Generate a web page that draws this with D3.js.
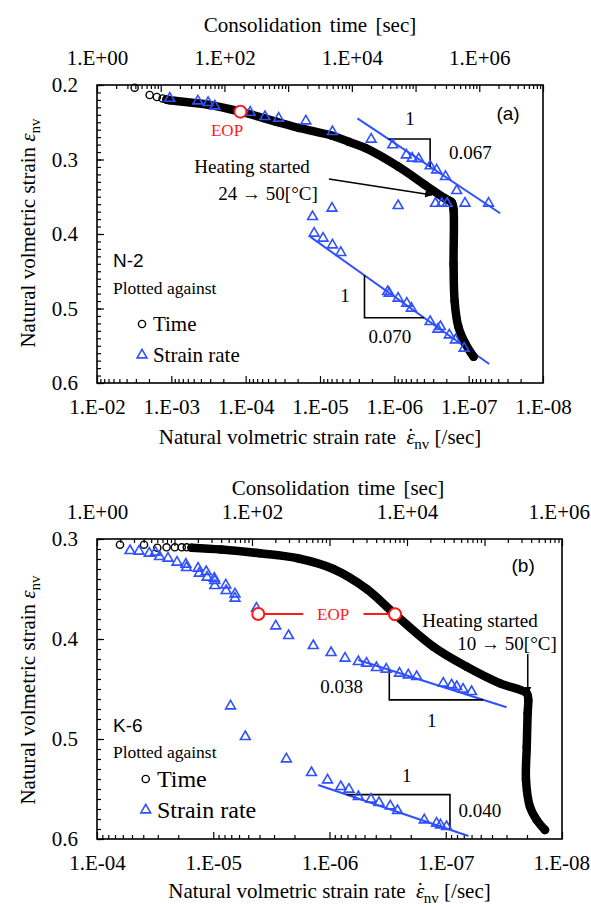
<!DOCTYPE html>
<html>
<head>
<meta charset="utf-8">
<script src="https://cdn.jsdelivr.net/npm/d3@7"></script>
<style>
  body { margin: 0; background: #fff; }
  svg { display: block; font-family: "Liberation Serif", "Times New Roman", serif; }
</style>
</head>
<body>
<svg id="chart" width="591" height="907"></svg>
<script>
//--------------------------------------------
// DATA  panel (a)  N-2
//--------------------------------------------
// strain vs consolidation time [sec]
const timeEarlyA = [[3.9, 0.2036], [6.7, 0.2134], [8.7, 0.2161], [10.7, 0.2181]];
const timeBandA = [
  [12.3, 0.2195], [14, 0.2205], [59, 0.2268], [178, 0.2358], [646, 0.2492],
  [1480, 0.2577], [4900, 0.2681], [8900, 0.2761], [16200, 0.2845], [53700, 0.3096],
  [141000, 0.3342], [288000, 0.3521], [370000, 0.3575], [393000, 0.366],
  [395000, 0.44], [410000, 0.49], [468000, 0.524], [603000, 0.547], [813000, 0.5647]
];
// strain vs strain rate [/sec]
const rateA = [
  [1.05e-3, 0.218], [4.4e-4, 0.2215], [3.2e-4, 0.2237], [2.6e-4, 0.2282],
  [8.7e-5, 0.2367], [5.5e-5, 0.2425], [3.6e-5, 0.2447], [1.55e-5, 0.2483],
  [6.8e-6, 0.2627], [2.05e-6, 0.2729], [1.05e-6, 0.2805], [6.9e-7, 0.294],
  [5.75e-7, 0.2984], [4.7e-7, 0.2993], [3.3e-7, 0.3087], [2.7e-7, 0.3141],
  [2.05e-7, 0.323], [1.45e-7, 0.3419], [1.12e-7, 0.3588], [5.4e-8, 0.3588],
  [2.8e-7, 0.359], [2.3e-7, 0.359], [1.95e-7, 0.359], [8.9e-7, 0.362],
  [6.9e-6, 0.3655], [1.26e-5, 0.3768], [1.2e-5, 0.399], [9.1e-6, 0.4058],
  [6.8e-6, 0.4148], [5.25e-6, 0.425], [1.23e-6, 0.4774], [1.17e-6, 0.4796],
  [8.9e-7, 0.4863], [6.8e-7, 0.493], [5.9e-7, 0.4997], [3.3e-7, 0.5177],
  [2.6e-7, 0.5279], [2.4e-7, 0.5244], [1.82e-7, 0.5356], [1.51e-7, 0.5423],
  [1.15e-7, 0.5534]
];
const fitA = [
  [[3.14e-6, 0.2447], [3.77e-8, 0.3722]],
  [[1.36e-5, 0.4036], [5.3e-8, 0.5745]]
];
const slopeA = [
  { fit: 0, from: 1.2e-6, to: 3.3e-7, kind: "top" },
  { fit: 1, from: 2.52e-6, to: 3.98e-7, kind: "bottom" }
];
const eopTimeA = [178, 0.2358];

//--------------------------------------------
// DATA  panel (b)  K-6
//--------------------------------------------
const timeEarlyB = [[1.98, 0.3057], [4.04, 0.3057], [6.0, 0.3087], [7.9, 0.3083],
  [10.1, 0.3083], [12.4, 0.3083], [14.4, 0.3083]];
const timeBandB = [
  [16.6, 0.3087], [40, 0.3105], [126, 0.3143], [400, 0.3195], [1120, 0.33],
  [3020, 0.35], [7000, 0.3753], [21900, 0.4077], [58900, 0.4277], [158000, 0.4443],
  [351000, 0.4543], [367000, 0.461], [360000, 0.4743], [351000, 0.5077],
  [343000, 0.541], [386000, 0.5677], [472000, 0.581], [604000, 0.591]
];
const rateB = [
  [5.2e-5, 0.3117], [4.35e-5, 0.3123], [3.55e-5, 0.3143], [3.15e-5, 0.3133],
  [2.9e-5, 0.3177], [2.45e-5, 0.3193], [2.05e-5, 0.3233], [1.72e-5, 0.3253],
  [1.7e-5, 0.3287], [1.35e-5, 0.3293], [1.32e-5, 0.3343], [1.15e-5, 0.3327],
  [1.13e-5, 0.3383], [9.8e-6, 0.3393], [9.7e-6, 0.3417], [9.7e-6, 0.3467],
  [7.8e-6, 0.346], [7.75e-6, 0.3517], [6.5e-6, 0.355], [6.5e-6, 0.3593],
  [4.25e-6, 0.3693], [2.9e-6, 0.387], [2.25e-6, 0.3967], [1.38e-6, 0.4067],
  [9.7e-7, 0.4137], [7.35e-7, 0.4193], [5.65e-7, 0.4227], [4.8e-7, 0.4243],
  [3.95e-7, 0.4287], [3.25e-7, 0.4303], [2.5e-7, 0.4343], [2.1e-7, 0.436],
  [1.78e-7, 0.4377], [1.05e-7, 0.4443], [8.9e-8, 0.446], [8.05e-8, 0.4477],
  [7.1e-8, 0.4503], [6.0e-8, 0.4527],
  [7.1e-6, 0.467], [5.3e-6, 0.4977], [2.35e-6, 0.52], [1.43e-6, 0.5337],
  [1.04e-6, 0.541], [8.0e-7, 0.5477], [6.8e-7, 0.5503], [5.65e-7, 0.5577],
  [4.4e-7, 0.5603], [3.75e-7, 0.5637], [3.0e-7, 0.567], [2.6e-7, 0.5717],
  [1.53e-7, 0.581], [1.2e-7, 0.5843], [1.11e-7, 0.586], [9.85e-8, 0.5877]
];
const fitB = [
  [[5.65e-7, 0.421], [3.0e-8, 0.4683]],
  [[1.25e-6, 0.546], [6.38e-8, 0.597]]
];
const slopeB = [
  { fit: 0, from: 3.06e-7, to: 4.75e-8, kind: "bottom" },
  { fit: 1, from: 7.13e-7, to: 9.2e-8, kind: "top" }
];
const eopTimeB = [7000, 0.3753];
const eopRateB = [4.1e-6, 0.375];

//--------------------------------------------
// CONFIG
//--------------------------------------------
const W = 591,
      blue = "#2f50ff",
      red = "#ff1a1a",
      svg = d3.select("#chart");

const fmtE = v => {
  const e = Math.round(Math.log10(v));
  return "1.E" + (e < 0 ? "-" : "+") + String(Math.abs(e)).padStart(2, "0");
};
const decades = (a, b) => d3.range(a, b + 1).map(e => Math.pow(10, e));
const minorLog = (a, b) => d3.range(a, b).flatMap(e => d3.range(2, 10).map(m => m * Math.pow(10, e)));

const panels = [
  {
    box: { l: 97, r: 543, t: 85, b: 383 },
    rateDom: [1e-2, 1e-8], rateExp: [-8, -2],
    timeDom: [1, 1e7], timeExp: [0, 7],
    strainDom: [0.2, 0.6],
    timeEarly: timeEarlyA, timeBand: timeBandA, rate: rateA,
    fits: fitA, slopes: slopeA,
    timeTitleX: 310, timeTitleY: 25, rateTitleY: 444, strainTitleY: 233,
    slopeLabels: [["1", 6.17e-7, 0.2443], ["0.067", 9.5e-8, 0.29], ["1", 4.6e-6, 0.4819], ["0.070", 1.15e-6, 0.5379]],
    tag: ["(a)", 2.95e-8, 0.2376],
    name: ["N-2", 6.1e-3, 0.435],
    plotted: 0.4725,
    legend: { mark: 2.48e-3, text: 1.77e-3, time: 0.5208, rate: 0.5624, size: 21 },
    heat: { t1: ["Heating started", 8.2e-5, 0.31], t2: ["24 → 50[°C]", 5.0e-5, 0.345],
            from: [7.6e-6, 0.3262], to: [3.1e-7, 0.3477] },
    eopTime: eopTimeA,
    eopText: [1.78e-4, 0.2617]
  },
  {
    box: { l: 97, r: 562, t: 539, b: 839 },
    rateDom: [1e-4, 1e-8], rateExp: [-8, -4],
    timeDom: [1, 1e6], timeExp: [0, 6],
    strainDom: [0.3, 0.6],
    timeEarly: timeEarlyB, timeBand: timeBandB, rate: rateB,
    fits: fitB, slopes: slopeB,
    timeTitleX: 338, timeTitleY: 488, rateTitleY: 898, strainTitleY: 690,
    slopeLabels: [["0.038", 7.85e-7, 0.4477], ["1", 1.32e-7, 0.481], ["1", 2.17e-7, 0.536], ["0.040", 5.08e-8, 0.571]],
    tag: ["(b)", 2.16e-8, 0.326],
    name: ["K-6", 7.28e-5, 0.486],
    plotted: 0.513,
    legend: { mark: 3.81e-5, text: 3.05e-5, time: 0.54, rate: 0.571, size: 24 },
    heat: { t1: ["Heating started", 5.07e-8, 0.381], t2: ["10 → 50[°C]", 2.97e-8, 0.404],
            from: [1.97e-8, 0.415], to: [1.97e-8, 0.455] },
    eopTime: eopTimeB,
    eopRate: eopRateB,
    eopText: [9.3e-7, 0.375],
    eopLines: [[4.1e-6, 1.68e-6], [5.1e-7, null]]
  }
];

// arrow head
svg.append("defs").append("marker")
  .attr("id", "arrow")
  .attr("viewBox", "0 0 10 10")
  .attr("refX", 10).attr("refY", 5)
  .attr("markerWidth", 9).attr("markerHeight", 7)
  .attr("markerUnits", "userSpaceOnUse")
  .attr("orient", "auto")
  .append("path").attr("d", "M0,0 L10,5 L0,10 z").attr("fill", "#000");

//--------------------------------------------
// DRAW
//--------------------------------------------
function styleAxis(sel) {
  sel.select(".domain").remove();
  sel.selectAll("line").attr("stroke", "#000").attr("stroke-width", 1.2);
  sel.selectAll("text")
    .attr("fill", "#000")
    .style("font-family", "'Liberation Serif', serif")
    .style("font-size", "21px");
  // keep a label that would run past the right edge inside the page
  sel.selectAll("text").each(function () {
    const b = this.getBBox();
    const tx = this.parentNode.transform.baseVal.consolidate();
    const left = (tx ? tx.matrix.e : 0) + b.x;
    const over = left + b.width - (W - 1);
    if (over > 0) d3.select(this).attr("x", -over);
  });
}

// "ε̇nv" : italic epsilon, dot above, subscript
function epsLabel(text, dotted) {
  text.append("tspan").style("font-style", "italic").text("\u03b5");
  if (dotted) text.append("tspan").attr("dx", -7.5).attr("dy", -1).text("\u02d9");
  text.append("tspan").attr("dy", dotted ? 6 : 5).style("font-size", "15px").text("nv");
}

function drawPanel(p) {
  const g = svg.append("g");
  const B = p.box;
  const x = d3.scaleLog().domain(p.rateDom).range([B.l, B.r]);
  const xt = d3.scaleLog().domain(p.timeDom).range([B.l, B.r]);
  const y = d3.scaleLinear().domain(p.strainDom).range([B.t, B.b]);

  // axes: rate (bottom)
  g.append("g").attr("transform", `translate(0,${B.b})`)
    .call(d3.axisBottom(x).tickValues(minorLog(p.rateExp[0], p.rateExp[1])).tickSize(-4).tickFormat(""))
    .call(styleAxis);
  g.append("g").attr("transform", `translate(0,${B.b})`)
    .call(d3.axisBottom(x).tickValues(decades(p.rateExp[0], p.rateExp[1])).tickSize(-7).tickPadding(16).tickFormat(fmtE))
    .call(styleAxis);

  // axes: time (top)
  g.append("g").attr("transform", `translate(0,${B.t})`)
    .call(d3.axisTop(xt).tickValues(minorLog(p.timeExp[0], p.timeExp[1])).tickSize(-4).tickFormat(""))
    .call(styleAxis);
  g.append("g").attr("transform", `translate(0,${B.t})`)
    .call(d3.axisTop(xt).tickValues(decades(p.timeExp[0], p.timeExp[1])).tickSize(-7).tickPadding(20)
      .tickFormat(d => Math.round(Math.log10(d)) % 2 === 0 ? fmtE(d) : ""))
    .call(styleAxis);

  // axes: strain (left)
  const [s0, s1] = p.strainDom;
  const minorS = d3.range(Math.round(s0 * 100), Math.round(s1 * 100) + 1).map(v => v / 100);
  const majorS = d3.range(Math.round(s0 * 10), Math.round(s1 * 10) + 1).map(v => v / 10);
  g.append("g").attr("transform", `translate(${B.l},0)`)
    .call(d3.axisLeft(y).tickValues(minorS).tickSize(-4).tickFormat(""))
    .call(styleAxis);
  g.append("g").attr("transform", `translate(${B.l},0)`)
    .call(d3.axisLeft(y).tickValues(majorS).tickSize(-7).tickPadding(19).tickFormat(d3.format(".1f")))
    .call(styleAxis);

  // frame
  g.append("rect")
    .attr("x", B.l).attr("y", B.t).attr("width", B.r - B.l).attr("height", B.b - B.t)
    .attr("fill", "none").attr("stroke", "#000").attr("stroke-width", 1.6);

  // axis titles
  g.append("text")
    .attr("x", p.timeTitleX).attr("y", p.timeTitleY)
    .attr("text-anchor", "middle").attr("dominant-baseline", "central")
    .style("font-size", "21px").style("word-spacing", "3px")
    .text("Consolidation time [sec]");

  const rt = g.append("text")
    .attr("x", (B.l + B.r) / 2).attr("y", p.rateTitleY)
    .attr("text-anchor", "middle").style("font-size", "21px");
  rt.append("tspan").text("Natural volmetric strain rate\u00a0\u00a0");
  epsLabel(rt, true);
  rt.append("tspan").attr("dy", -5).text(" [/sec]");

  const st = g.append("text")
    .attr("transform", `translate(35,${p.strainTitleY}) rotate(-90)`)
    .attr("text-anchor", "middle").style("font-size", "21px");
  st.append("tspan").text("Natural volmetric strain ");
  epsLabel(st, false);

  // fitted lines
  const fitStrain = (f, r) => {
    const [[r0, v0], [r1, v1]] = f;
    const t = (Math.log10(r) - Math.log10(r0)) / (Math.log10(r1) - Math.log10(r0));
    return v0 + t * (v1 - v0);
  };
  g.selectAll(".fit").data(p.fits).join("line")
    .attr("x1", d => x(d[0][0])).attr("y1", d => y(d[0][1]))
    .attr("x2", d => x(d[1][0])).attr("y2", d => y(d[1][1]))
    .attr("stroke", blue).attr("stroke-width", 2);

  // slope triangles
  g.selectAll(".slope").data(p.slopes).join("path")
    .attr("d", d => {
      const f = p.fits[d.fit];
      const xa = x(d.from), xb = x(d.to);
      const ya = y(fitStrain(f, d.from)), yb = y(fitStrain(f, d.to));
      return d.kind === "top" ? `M${xa},${ya}H${xb}V${yb}` : `M${xa},${ya}V${yb}H${xb}`;
    })
    .attr("fill", "none").attr("stroke", "#000").attr("stroke-width", 1.6);

  g.selectAll(".slopeLabel").data(p.slopeLabels).join("text")
    .attr("x", d => x(d[1])).attr("y", d => y(d[2]))
    .attr("text-anchor", "middle").attr("dominant-baseline", "central")
    .style("font-size", "19px")
    .text(d => d[0]);

  // time curve: dense band + open circles
  g.append("path")
    .datum(p.timeBand)
    .attr("d", d3.line().x(d => xt(d[0])).y(d => y(d[1])).curve(d3.curveCatmullRom.alpha(0.5)))
    .attr("fill", "none").attr("stroke", "#000")
    .attr("stroke-width", 8.5).attr("stroke-linejoin", "round").attr("stroke-linecap", "round");

  g.selectAll(".tc").data(p.timeEarly.concat(p.timeBand)).join("circle")
    .attr("cx", d => xt(d[0])).attr("cy", d => y(d[1])).attr("r", 3.6)
    .attr("fill", "none").attr("stroke", "#000").attr("stroke-width", 1.4);

  // strain-rate triangles
  const tri = d3.symbol().type(d3.symbolTriangle).size(42);
  g.selectAll(".tr").data(p.rate).join("path")
    .attr("d", tri)
    .attr("transform", d => `translate(${x(d[0])},${y(d[1])})`)
    .attr("fill", "none").attr("stroke", blue).attr("stroke-width", 1.6);

  // EOP
  if (p.eopLines) {
    g.selectAll(".eopLine").data(p.eopLines).join("line")
      .attr("x1", d => x(d[0]))
      .attr("x2", d => d[1] === null ? xt(p.eopTime[0]) : x(d[1]))
      .attr("y1", y(p.eopRate[1])).attr("y2", y(p.eopRate[1]))
      .attr("stroke", red).attr("stroke-width", 2);
    g.append("circle")
      .attr("cx", x(p.eopRate[0])).attr("cy", y(p.eopRate[1])).attr("r", 6)
      .attr("fill", "#fff").attr("stroke", red).attr("stroke-width", 2);
  }
  g.append("circle")
    .attr("cx", xt(p.eopTime[0])).attr("cy", y(p.eopTime[1])).attr("r", 6)
    .attr("fill", "#fff").attr("stroke", red).attr("stroke-width", 2);
  g.append("text")
    .attr("x", x(p.eopText[0])).attr("y", y(p.eopText[1]))
    .attr("text-anchor", "middle").attr("dominant-baseline", "central")
    .attr("fill", red).style("font-size", "17px")
    .text("EOP");

  // heating annotation
  [p.heat.t1, p.heat.t2].forEach(t => {
    g.append("text")
      .attr("x", x(t[1])).attr("y", y(t[2]))
      .attr("text-anchor", "middle").attr("dominant-baseline", "central")
      .style("font-size", "19px")
      .text(t[0]);
  });
  g.append("line")
    .attr("x1", x(p.heat.from[0])).attr("y1", y(p.heat.from[1]))
    .attr("x2", x(p.heat.to[0])).attr("y2", y(p.heat.to[1]))
    .attr("stroke", "#000").attr("stroke-width", 1.5)
    .attr("marker-end", "url(#arrow)");

  // panel tag and sample name
  g.append("text")
    .attr("x", x(p.tag[1])).attr("y", y(p.tag[2]))
    .attr("text-anchor", "middle").attr("dominant-baseline", "central")
    .style("font-family", "'Liberation Sans', Arial, sans-serif").style("font-size", "19px")
    .text(p.tag[0]);
  g.append("text")
    .attr("x", x(p.name[1])).attr("y", y(p.name[2]))
    .attr("dominant-baseline", "central")
    .style("font-family", "'Liberation Sans', Arial, sans-serif").style("font-size", "19px")
    .text(p.name[0]);
  g.append("text")
    .attr("x", x(p.name[1])).attr("y", y(p.plotted))
    .attr("dominant-baseline", "central")
    .style("font-size", "17.5px")
    .text("Plotted against");

  // legend
  const L = p.legend;
  g.append("circle")
    .attr("cx", x(L.mark)).attr("cy", y(L.time)).attr("r", 3.6)
    .attr("fill", "none").attr("stroke", "#000").attr("stroke-width", 1.4);
  g.append("path")
    .attr("d", tri)
    .attr("transform", `translate(${x(L.mark)},${y(L.rate)})`)
    .attr("fill", "none").attr("stroke", blue).attr("stroke-width", 1.6);
  g.append("text")
    .attr("x", x(L.text)).attr("y", y(L.time))
    .attr("dominant-baseline", "central").style("font-size", L.size + "px")
    .text("Time");
  g.append("text")
    .attr("x", x(L.text)).attr("y", y(L.rate))
    .attr("dominant-baseline", "central").style("font-size", L.size + "px")
    .text("Strain rate");
}

panels.forEach(drawPanel);
</script>
</body>
</html>
